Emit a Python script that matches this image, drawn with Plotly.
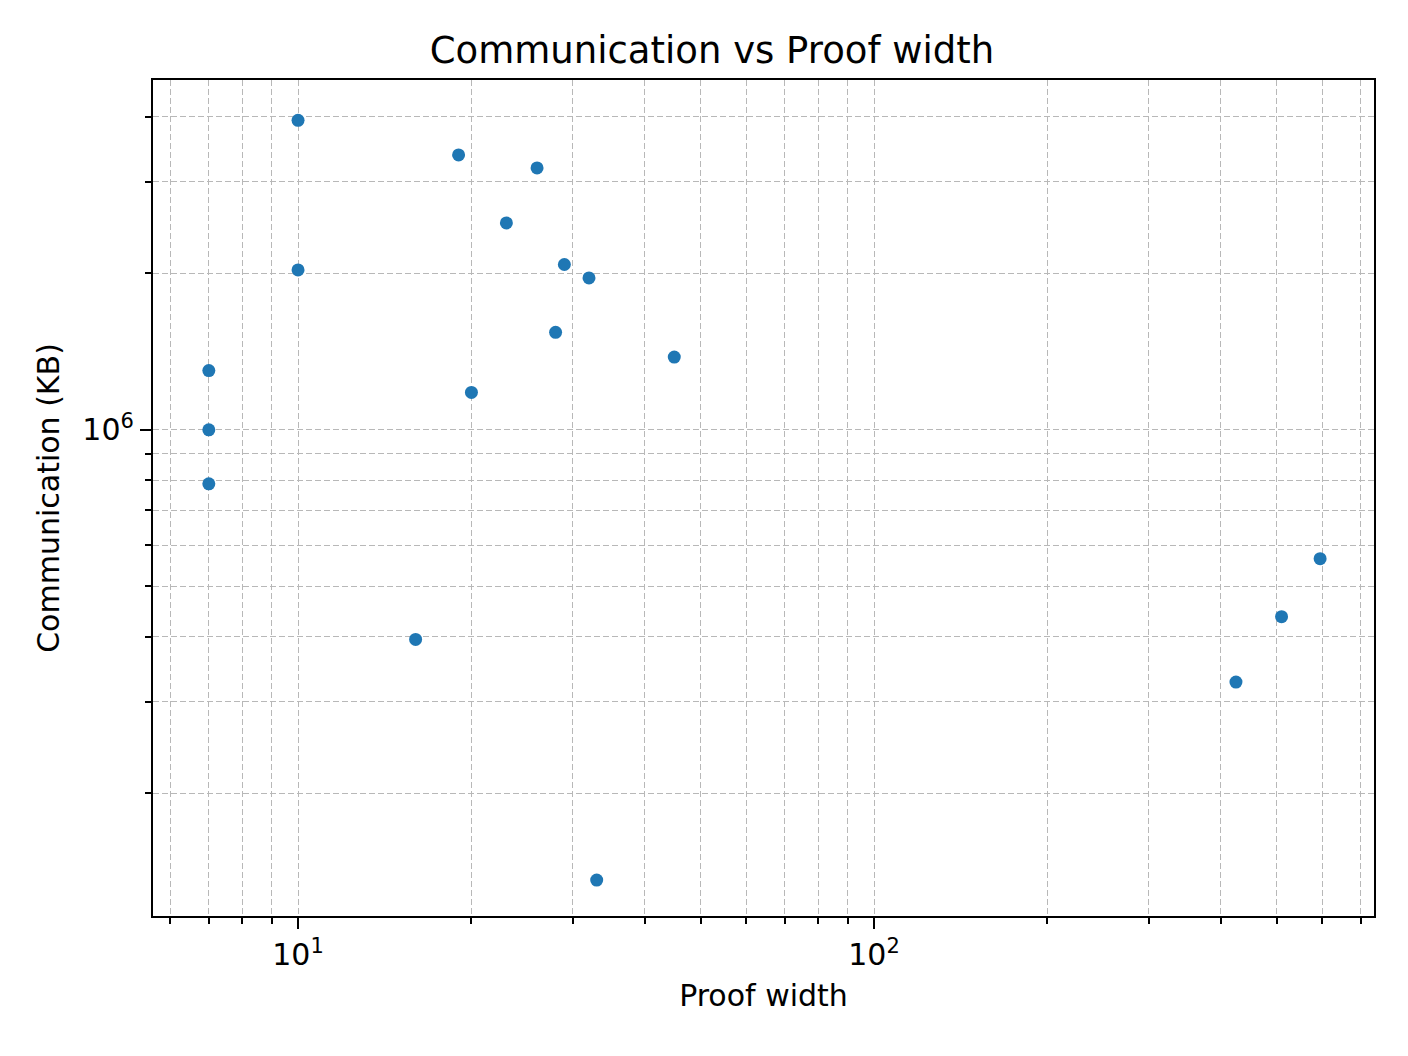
import numpy as np
import plotly.graph_objects as go

# proof width vs communication (KB)
proof_width = [7, 7, 7, 10, 10, 16, 19, 20, 23, 26, 28, 29, 32, 33, 45, 425, 510, 595]
communication = [1.30e6, 1.0e6, 7.87e5, 3.94e6, 2.03e6, 3.95e5, 3.38e6, 1.18e6, 2.50e6,
                 3.19e6, 1.54e6, 2.08e6, 1.96e6, 1.36e5, 1.38e6, 3.27e5, 4.37e5, 5.65e5]

x_major = [10, 100]
x_major_text = ["10<sup>1</sup>", "10<sup>2</sup>"]
x_minor = [6, 7, 8, 9, 20, 30, 40, 50, 60, 70, 80, 90, 200, 300, 400, 500, 600, 700]
y_major = [1e6]
y_major_text = ["10<sup>6</sup>"]
y_minor = [2e5, 3e5, 4e5, 5e5, 6e5, 7e5, 8e5, 9e5, 2e6, 3e6, 4e6]

grid = dict(showgrid=True, gridcolor="#b8b8b8", gridwidth=1.3, griddash="6px,3px")

fig = go.Figure()
fig.add_trace(go.Scatter(
    x=proof_width, y=communication, mode="markers",
    marker=dict(color="#1f77b4", size=13, line_width=0),
))

axis_common = dict(
    type="log", showline=True, linecolor="black", linewidth=2.2, mirror=True,
    ticks="outside", ticklen=11, tickwidth=2, tickcolor="black",
    tickfont=dict(size=30, color="black"), zeroline=False, **grid,
)

fig.update_xaxes(
    range=[np.log10(5.6), np.log10(738)],
    tickmode="array", tickvals=x_major, ticktext=x_major_text,
    minor=dict(tickvals=x_minor, ticks="outside", ticklen=6, tickwidth=2,
               tickcolor="black", **grid),
    title=dict(text="Proof width", font=dict(size=30, color="black"), standoff=14),
    **axis_common,
)
fig.update_yaxes(
    range=[np.log10(1.16e5), np.log10(4.71e6)],
    tickmode="array", tickvals=y_major, ticktext=y_major_text,
    minor=dict(tickvals=y_minor, ticks="outside", ticklen=6, tickwidth=2,
               tickcolor="black", **grid),
    title=dict(text="Communication (KB)", font=dict(size=30, color="black"), standoff=14),
    **axis_common,
)

fig.update_layout(
    width=1408, height=1056,
    margin=dict(l=145, r=42, t=72, b=148),
    title=dict(text="Communication vs Proof width", x=0.5, xanchor="center",
               y=1 - 42 / 1056, yanchor="middle", font=dict(size=37, color="black")),
    font=dict(family="DejaVu Sans"),
    plot_bgcolor="white", paper_bgcolor="white",
    showlegend=False,
)

fig.write_html("out.html")
